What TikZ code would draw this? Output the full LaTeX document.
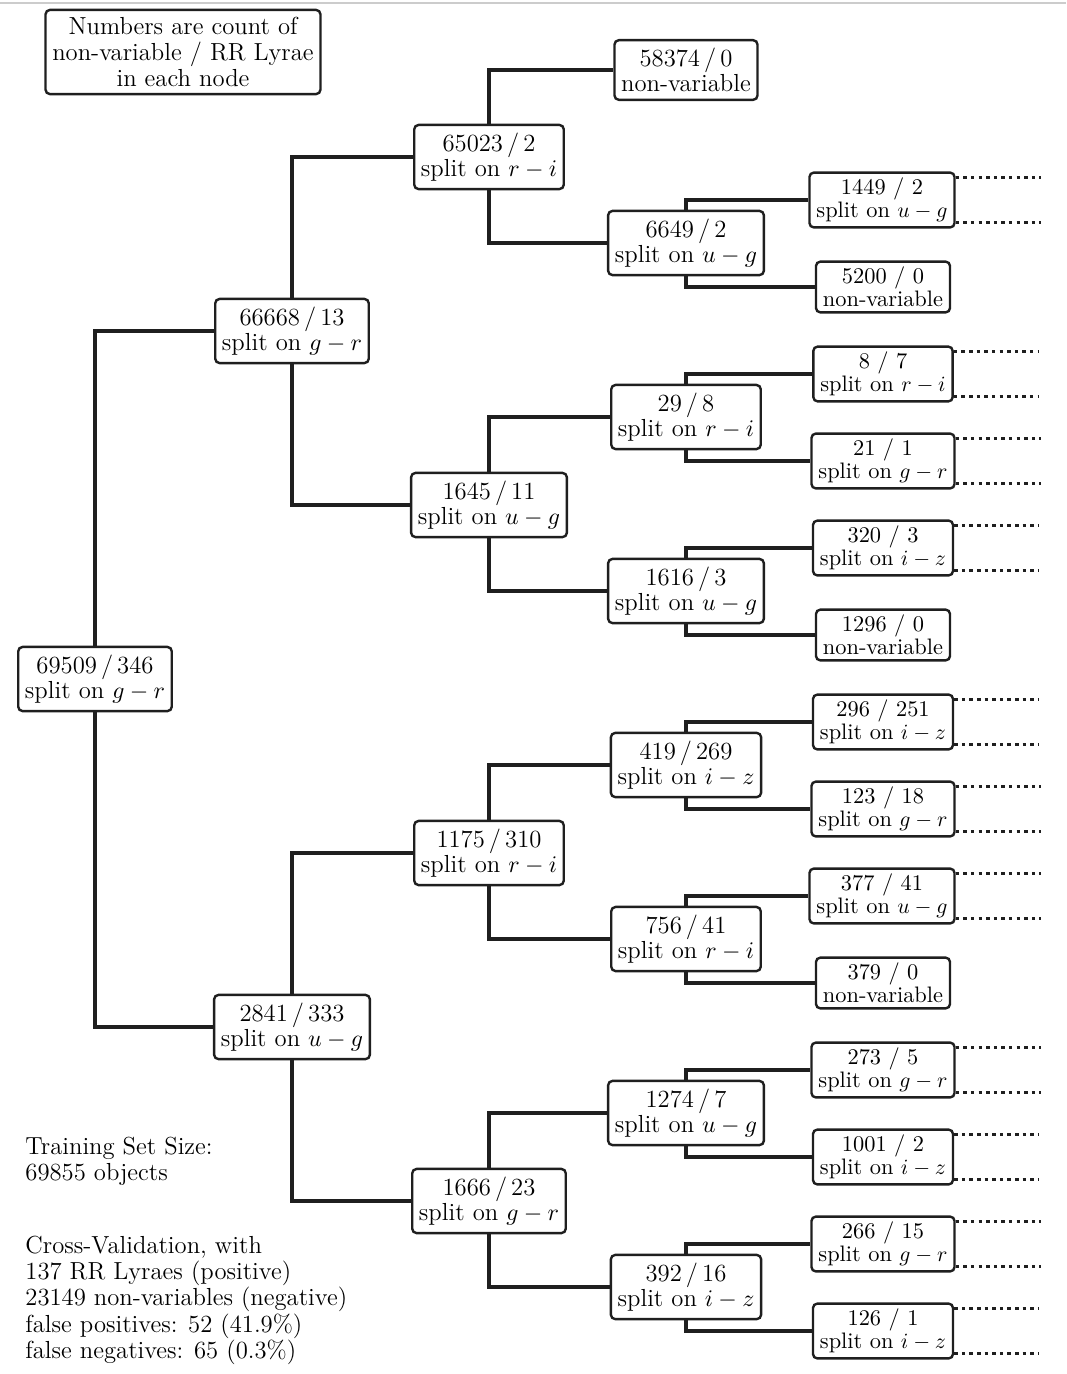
\documentclass[tikz,border=0pt]{standalone}
\usepackage{amsmath,amssymb,amsfonts}
\usepackage{xcolor}
\usepackage{tikz}

\newcommand{\cnt}[2]{#1\,/\,#2}

\begin{document}
\begin{tikzpicture}[x=0.46pt,y=-0.46pt,
        box/.style = {draw=black!88, rounded corners=2pt, line width=1.1pt, align=center,
            inner xsep=3.1pt, inner ysep=3.5pt, fill=white, font=\fontsize{11.35}{11.8}\selectfont},
        leaf/.style = {box, inner xsep=3.2pt, inner ysep=2.4pt, font=\fontsize{10.3}{10.7}\selectfont},
        edge/.style = {draw=black!88, line width=1.4pt},
        more/.style = {draw=black!88, line width=1.6pt, dash pattern=on 1.6pt off 1.9pt},
        note/.style = {anchor=north west, align=left, inner sep=0pt, font=\fontsize{11.35}{12}\selectfont}
    ]
        \useasboundingbox (0,0) rectangle (1066,1374);
        \draw[black!20, line width=1pt] (0,3) -- (1066,3);
        \node[box] (key) at (183,52) {Numbers are count of\\non-variable / RR Lyrae\\in each node};
        % root and first splits
        \node[box] (n) at (95,679) {\cnt{69509}{346}\\split on $g-r$};
        \node[box] (n0) at (292,331) {\cnt{66668}{13}\\split on $g-r$};
        \node[box] (n1) at (292,1027) {\cnt{2841}{333}\\split on $u-g$};
        \node[box] (n00) at (489,157) {\cnt{65023}{2}\\split on $r-i$};
        \node[box] (n01) at (489,505) {\cnt{1645}{11}\\split on $u-g$};
        \node[box] (n10) at (489,853) {\cnt{1175}{310}\\split on $r-i$};
        \node[box] (n11) at (489,1201) {\cnt{1666}{23}\\split on $g-r$};
        % third level
        \node[box] (n000) at (686,70) {\cnt{58374}{0}\\non-variable};
        \node[box] (n001) at (686,243) {\cnt{6649}{2}\\split on $u-g$};
        \node[box] (n010) at (686,417) {\cnt{29}{8}\\split on $r-i$};
        \node[box] (n011) at (686,591) {\cnt{1616}{3}\\split on $u-g$};
        \node[box] (n100) at (686,765) {\cnt{419}{269}\\split on $i-z$};
        \node[box] (n101) at (686,939) {\cnt{756}{41}\\split on $r-i$};
        \node[box] (n110) at (686,1113) {\cnt{1274}{7}\\split on $u-g$};
        \node[box] (n111) at (686,1287) {\cnt{392}{16}\\split on $i-z$};
        % fourth level
        \node[leaf] (n0010) at (882,200) {1449 / 2\\split on $u-g$};
        \node[leaf] (n0011) at (883,287) {5200 / 0\\non-variable};
        \node[leaf] (n0100) at (883,374) {8 / 7\\split on $r-i$};
        \node[leaf] (n0101) at (883,461) {21 / 1\\split on $g-r$};
        \node[leaf] (n0110) at (883,548) {320 / 3\\split on $i-z$};
        \node[leaf] (n0111) at (883,635) {1296 / 0\\non-variable};
        \node[leaf] (n1000) at (883,722) {296 / 251\\split on $i-z$};
        \node[leaf] (n1001) at (883,809) {123 / 18\\split on $g-r$};
        \node[leaf] (n1010) at (882,896) {377 / 41\\split on $u-g$};
        \node[leaf] (n1011) at (883,983) {379 / 0\\non-variable};
        \node[leaf] (n1100) at (883,1070) {273 / 5\\split on $g-r$};
        \node[leaf] (n1101) at (883,1157) {1001 / 2\\split on $i-z$};
        \node[leaf] (n1110) at (883,1244) {266 / 15\\split on $g-r$};
        \node[leaf] (n1111) at (883,1331) {126 / 1\\split on $i-z$};
        % connectors
        \foreach \p in {n,n0,n1,n00,n01,n10,n11,n001,n010,n011,n100,n101,n110,n111} {
            \draw[edge] (\p.north) |- (\p0.west);
            \draw[edge] (\p.south) |- (\p1.west);
        }
        \foreach \p in {n0010,n0100,n0101,n0110,n1000,n1001,n1010,n1100,n1101,n1110,n1111} {
            \draw[more] ([yshift=-2.8pt]\p.north east) -- ++(85,0);
            \draw[more] ([yshift=2.8pt]\p.south east) -- ++(85,0);
        }
        \node[note] (size) at (25,1137) {Training Set Size:\\69855 objects};
        \node[note] (cv) at (25,1236) {Cross-Validation, with\\137 RR Lyraes (positive)\\23149 non-variables (negative)\\false positives: 52 (41.9\%)\\false negatives: 65 (0.3\%)};
    \end{tikzpicture}
\end{document}
